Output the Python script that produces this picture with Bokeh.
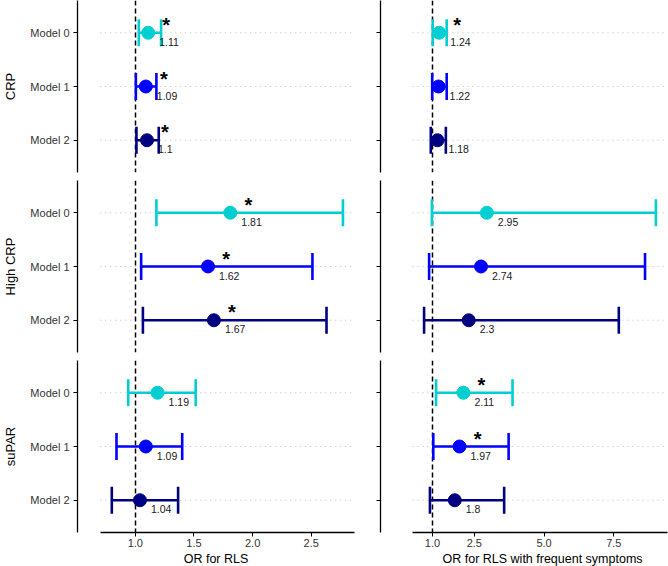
import numpy as np
from bokeh.plotting import figure
from bokeh.models import Range1d, FixedTicker, NumeralTickFormatter, Title
from bokeh.layouts import column, row
from bokeh.embed import file_html
from bokeh.resources import INLINE
from bokeh.core.properties import value

# ---------------- data ----------------
models = ["Model 0", "Model 1", "Model 2"]
groups = ["CRP", "High CRP", "suPAR"]
model_colors = ["#00CED1", "#0000FF", "#000080"]

x_titles = ["OR for RLS", "OR for RLS with frequent symptoms"]
left_ticks = [1.0, 1.5, 2.0, 2.5]
right_ticks = [1.0, 2.5, 5.0, 7.5]

# OR for RLS
rls_crp_est = [1.11, 1.09, 1.10]
rls_crp_lo = [1.03, 1.005, 1.01]
rls_crp_hi = [1.22, 1.18, 1.20]
rls_crp_sig = [True, True, True]

rls_high_est = [1.81, 1.62, 1.67]
rls_high_lo = [1.18, 1.05, 1.065]
rls_high_hi = [2.77, 2.51, 2.63]
rls_high_sig = [True, True, True]

rls_supar_est = [1.19, 1.09, 1.04]
rls_supar_lo = [0.94, 0.84, 0.80]
rls_supar_hi = [1.515, 1.40, 1.365]
rls_supar_sig = [False, False, False]

# OR for RLS with frequent symptoms
freq_crp_est = [1.24, 1.22, 1.18]
freq_crp_lo = [1.01, 0.99, 0.94]
freq_crp_hi = [1.51, 1.51, 1.48]
freq_crp_sig = [True, False, False]

freq_high_est = [2.95, 2.74, 2.30]
freq_high_lo = [0.98, 0.88, 0.70]
freq_high_hi = [9.01, 8.62, 7.68]
freq_high_sig = [False, False, False]

freq_supar_est = [2.11, 1.97, 1.80]
freq_supar_lo = [1.13, 1.03, 0.91]
freq_supar_hi = [3.87, 3.73, 3.57]
freq_supar_sig = [True, True, False]

left_panels = [
    (rls_crp_est, rls_crp_lo, rls_crp_hi, rls_crp_sig),
    (rls_high_est, rls_high_lo, rls_high_hi, rls_high_sig),
    (rls_supar_est, rls_supar_lo, rls_supar_hi, rls_supar_sig),
]
right_panels = [
    (freq_crp_est, freq_crp_lo, freq_crp_hi, freq_crp_sig),
    (freq_high_est, freq_high_lo, freq_high_hi, freq_high_sig),
    (freq_supar_est, freq_supar_lo, freq_supar_hi, freq_supar_sig),
]

FONT = "Liberation Sans"
ypos = [len(models) - 1 - i for i in range(len(models))]


def col_limits(panels, gap_frac):
    los = [v for pnl in panels for v in pnl[1]]
    his = [v for pnl in panels for v in pnl[2]]
    lo, hi = min(los), max(his)
    span = hi - lo
    a_lo, a_hi = lo - 0.05 * span, hi + 0.05 * span
    frame = (a_hi - a_lo) / (1 - gap_frac)
    return a_hi - frame, a_lo, a_hi


def make_panel(data, limits, ticks, col, r, width, height, b_left, b_right, b_top, b_bottom):
    est, lo, hi, sig = data
    f_lo, a_lo, a_hi = limits
    first_col = col == 0
    p = figure(width=width, height=height, output_backend="svg", toolbar_location=None,
               x_range=Range1d(f_lo, a_hi), y_range=Range1d(-0.6, len(models) - 0.4),
               min_border_left=b_left, min_border_right=b_right,
               min_border_top=b_top, min_border_bottom=b_bottom)
    p.outline_line_color = None
    p.xgrid.visible = False
    p.ygrid.visible = False
    p.background_fill_color = "white"

    # dotted horizontal guide lines
    p.segment(x0=[a_lo] * len(models), x1=[a_hi] * len(models), y0=ypos, y1=ypos,
              line_color="#BDBDBD", line_width=1.2, line_dash="1 4")
    # reference line at OR = 1
    p.vspan(x=[1.0], line_color="black", line_width=1.5, line_dash="5 3")

    p.segment(x0=lo, x1=hi, y0=ypos, y1=ypos, line_color=model_colors, line_width=2.4)
    p.scatter(x=lo, y=ypos, marker="dash", size=27, angle=np.pi / 2,
              line_color=model_colors, line_width=2.6)
    p.scatter(x=hi, y=ypos, marker="dash", size=27, angle=np.pi / 2,
              line_color=model_colors, line_width=2.6)
    p.scatter(x=est, y=ypos, size=13, fill_color=model_colors, line_color=model_colors)

    labels = [f"{v:g}" for v in est]
    p.text(x=est, y=ypos, text=labels, x_offset=11, y_offset=9, text_align="left",
           text_baseline="middle", text_font_size="10.5px", text_font=value(FONT),
           text_color="#1a1a1a")
    sx = [e for e, s in zip(est, sig) if s]
    sy = [y for y, s in zip(ypos, sig) if s]
    if sx:
        p.text(x=sx, y=sy, text=["*"] * len(sx), x_offset=18, y_offset=-8, text_align="center",
               text_baseline="middle", text_font_size="20px", text_font=value(FONT),
               text_font_style="bold", text_color="black")

    # y axis
    ya = p.yaxis[0]
    ya.ticker = FixedTicker(ticks=ypos)
    ya.axis_line_color = "black"
    ya.axis_line_width = 1.3
    ya.major_tick_line_color = "black"
    ya.major_tick_out = 4
    ya.major_tick_in = 0
    ya.minor_tick_out = 0
    ya.minor_tick_in = 0
    ya.major_label_standoff = 4
    ya.major_label_text_font = FONT
    ya.major_label_text_font_size = "11px"
    ya.major_label_text_color = "#333333"
    if first_col:
        ya.major_label_overrides = {y: m for y, m in zip(ypos, models)}
        ya.axis_label = groups[r]
        ya.axis_label_standoff = 9
        ya.axis_label_text_font = FONT
        ya.axis_label_text_font_size = "13px"
        ya.axis_label_text_font_style = "normal"
        ya.axis_label_text_color = "black"
    else:
        ya.major_label_overrides = {y: "" for y in ypos}

    xa = p.xaxis[0]
    if r == len(groups) - 1:
        xa.bounds = (a_lo, a_hi)
        xa.ticker = FixedTicker(ticks=ticks)
        xa.formatter = NumeralTickFormatter(format="0.0")
        xa.axis_line_color = "black"
        xa.axis_line_width = 1.3
        xa.major_tick_line_color = "black"
        xa.major_tick_out = 4
        xa.major_tick_in = 0
        xa.minor_tick_out = 0
        xa.minor_tick_in = 0
        xa.major_label_standoff = 2
        xa.major_label_text_font = FONT
        xa.major_label_text_font_size = "11px"
        xa.major_label_text_color = "#333333"
        # axis title: centred on the whole panel (left) / on the axis line (right)
        if first_col:
            t = Title(text=x_titles[col], align="center", standoff=0,
                      text_font=FONT, text_font_size="12.5px", text_font_style="normal",
                      text_color="black")
        else:
            t = Title(text=x_titles[col], align="left", offset=62, standoff=0,
                      text_font=FONT, text_font_size="12.5px", text_font_style="normal",
                      text_color="black")
        p.add_layout(t, "below")
    else:
        xa.visible = False
    return p


left_lim = col_limits(left_panels, 23 / 280)
right_lim = col_limits(right_panels, 32 / 287)

FRAME_H = 172
rows = []
for r in range(len(groups)):
    b_top = 0 if r == 0 else 4
    b_bottom = 34 if r == len(groups) - 1 else 4
    h = FRAME_H + b_top + b_bottom
    pl = make_panel(left_panels[r], left_lim, left_ticks, 0, r, 366, h, 74, 12, b_top, b_bottom)
    pr = make_panel(right_panels[r], right_lim, right_ticks, 1, r, 302, h, 14, 1, b_top, b_bottom)
    rows.append(row(pl, pr))

layout = column(*rows)
open("out.html", "w").write(file_html(layout, INLINE))
